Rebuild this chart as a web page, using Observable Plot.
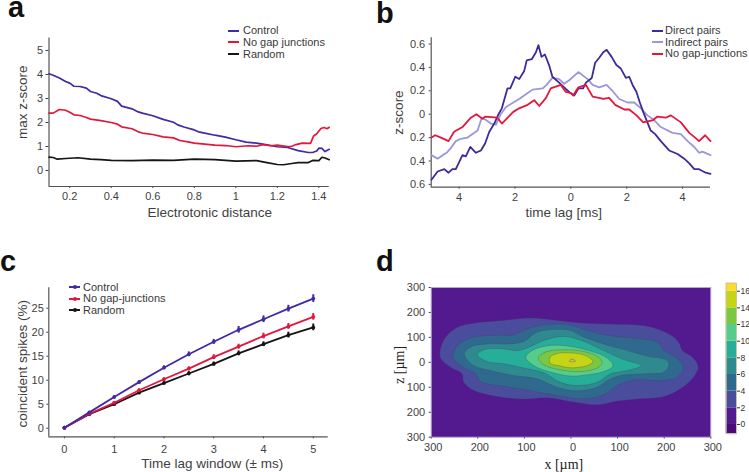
<!DOCTYPE html>
<html>
<head>
<meta charset="utf-8">
<script src="https://cdn.jsdelivr.net/npm/d3@7"></script>
<script src="https://cdn.jsdelivr.net/npm/@observablehq/plot@0.6"></script>
<style>
html,body{margin:0;padding:0;background:#fff;}
#fig{position:relative;width:749px;height:472px;overflow:hidden;font-family:"Liberation Sans",Arial,sans-serif;color:#3a3a3a;}
.box{position:absolute;}
.box svg{display:block;background:transparent;overflow:visible;}
.letter{position:absolute;font-weight:700;font-size:29px;line-height:14px;color:#111;}
.legend{position:absolute;font-size:11px;line-height:11px;white-space:nowrap;}
.legend span.t{position:absolute;top:-5.5px;}
.legend span.s{position:absolute;height:2px;top:-1px;}
.legend span.d{position:absolute;width:4px;height:4px;border-radius:50%;top:-2px;}
</style>
</head>
<body>
<div id="fig"></div>
<script>
// Panel a: [electrotonic distance, max z-score]
const aControl = [[.1,4.03],[.12,3.97],[.15,3.85],[.18,3.71],[.2,3.64],[.22,3.51],[.25,3.5],[.28,3.43],[.3,3.29],[.33,3.22],[.35,3.12],[.4,2.99],[.43,2.88],[.45,2.68],[.5,2.57],[.53,2.44],[.55,2.39],[.6,2.28],[.65,2.13],[.7,2.01],[.72,1.9],[.75,1.81],[.8,1.69],[.82,1.61],[.85,1.56],[.9,1.47],[.95,1.39],[1,1.28],[1.05,1.18],[1.1,1.14],[1.15,1.07],[1.2,.99],[1.25,.96],[1.3,.83],[1.35,.75],[1.37,.75],[1.39,.81],[1.4,.93],[1.415,.92],[1.43,.79],[1.45,.88]];
const aNoGap = [[.1,2.39],[.12,2.39],[.15,2.54],[.18,2.51],[.2,2.43],[.22,2.32],[.25,2.29],[.28,2.21],[.3,2.14],[.35,2.08],[.4,2],[.43,1.93],[.45,1.82],[.5,1.74],[.53,1.61],[.55,1.56],[.6,1.5],[.65,1.4],[.7,1.36],[.73,1.25],[.77,1.19],[.8,1.14],[.85,1.1],[.9,1.06],[.95,1.04],[1,.99],[1.03,1.01],[1.06,1.03],[1.1,1.01],[1.13,1.08],[1.17,1.03],[1.2,1.06],[1.25,1],[1.27,1.01],[1.29,1.08],[1.32,1.14],[1.36,1.13],[1.375,1.44],[1.39,1.53],[1.41,1.75],[1.425,1.79],[1.44,1.74],[1.45,1.8]];
const aRandom = [[.1,.56],[.12,.54],[.14,.47],[.18,.5],[.24,.53],[.3,.47],[.35,.45],[.4,.42],[.5,.41],[.6,.43],[.7,.42],[.8,.47],[.9,.45],[1,.39],[1.1,.41],[1.15,.33],[1.2,.25],[1.23,.24],[1.27,.29],[1.3,.33],[1.35,.33],[1.37,.42],[1.4,.41],[1.415,.55],[1.43,.52],[1.45,.45]];
const aXTicks = [.2,.4,.6,.8,1,1.2,1.4];
const aYTicks = [0,1,2,3,4,5];

// Panel b: [time lag, z-score]
const bDirect = [[-4.99,-.56],[-4.77,-.49],[-4.53,-.47],[-4.38,-.5],[-4.24,-.47],[-4.12,-.47],[-3.88,-.35],[-3.76,-.36],[-3.6,-.28],[-3.4,-.33],[-3.22,-.31],[-3.07,-.25],[-2.92,-.15],[-2.74,-.08],[-2.59,0],[-2.47,.05],[-2.27,.22],[-2.17,.22],[-1.99,.32],[-1.85,.3],[-1.67,.37],[-1.58,.46],[-1.4,.47],[-1.25,.53],[-1.16,.59],[-1.05,.49],[-.93,.51],[-.78,.42],[-.66,.32],[-.42,.27],[-.24,.23],[-.06,.19],[0,.18],[.12,.16],[.27,.22],[.44,.22],[.54,.27],[.75,.31],[.87,.44],[1.01,.48],[1.16,.53],[1.28,.55],[1.46,.49],[1.63,.42],[1.79,.39],[1.97,.31],[2.09,.32],[2.21,.25],[2.35,.19],[2.47,.1],[2.59,.02],[2.74,-.07],[2.86,-.14],[3.02,-.17],[3.22,-.23],[3.52,-.31],[3.82,-.34],[4.06,-.38],[4.24,-.42],[4.42,-.47],[4.59,-.47],[4.83,-.5],[5,-.51]];
const bIndirect = [[-4.99,-.35],[-4.77,-.38],[-4.59,-.35],[-4.45,-.33],[-4.3,-.29],[-4.12,-.23],[-3.94,-.21],[-3.7,-.2],[-3.52,-.17],[-3.34,-.14],[-3.19,-.03],[-3.04,-.05],[-2.86,-.08],[-2.68,-.09],[-2.51,0],[-2.33,.06],[-2.06,.1],[-1.85,.13],[-1.61,.17],[-1.37,.21],[-1.01,.22],[-.87,.25],[-.66,.31],[-.42,.3],[-.24,.26],[-.06,.29],[.27,.36],[.6,.3],[.78,.25],[1.01,.23],[1.28,.25],[1.49,.2],[1.73,.13],[2.03,.1],[2.27,.1],[2.51,.05],[2.74,-.01],[2.98,-.05],[3.22,-.11],[3.64,-.16],[3.94,-.17],[4.18,-.23],[4.42,-.28],[4.59,-.33],[4.71,-.32],[5,-.35]];
const bNoGap = [[-4.99,-.2],[-4.86,-.18],[-4.65,-.2],[-4.38,-.23],[-4.18,-.15],[-3.88,-.11],[-3.58,-.03],[-3.38,0],[-3.16,-.04],[-3.07,-.02],[-2.63,-.03],[-2.47,-.08],[-2.06,.02],[-1.85,.05],[-1.55,.08],[-1.31,.12],[-1.13,.07],[-.89,.14],[-.72,.22],[-.36,.25],[-.18,.19],[0,.18],[.08,.16],[.27,.23],[.54,.25],[.78,.15],[1.01,.14],[1.16,.13],[1.37,.14],[1.59,.08],[1.91,.04],[2.09,.04],[2.35,-.01],[2.59,-.07],[2.95,-.05],[3.1,-.02],[3.4,-.03],[3.58,-.01],[3.94,-.07],[4.24,-.16],[4.45,-.2],[4.59,-.23],[4.81,-.18],[5,-.23]];
const bXTicks = [-4,-2,0,2,4];
const bYTicks = [-.6,-.4,-.2,0,.2,.4,.6];

// Panel c: time lag window, coincident spikes, error
const cLag = [0,.5,1,1.5,2,2.5,3,3.5,4,4.5,5];
const cControl = [.1,3.3,6.5,9.6,12.6,15.4,18,20.5,22.7,24.9,27];
const cNoGap = [.1,3,5.3,7.9,10.2,12.4,14.8,17,19.2,21.2,23.2];
const cRandom = [.1,2.9,5,7.4,9.4,11.4,13.4,15.6,17.5,19.4,21];
const cControlErr = [.1,.2,.2,.3,.4,.5,.5,.7,.7,.7,.8];
const cNoGapErr = [.1,.2,.2,.3,.3,.4,.5,.5,.6,.6,.7];
const cRandomErr = [.1,.2,.2,.3,.3,.4,.4,.5,.5,.6,.7];
const cXTicks = [0,1,2,3,4,5];
const cYTicks = [0,5,10,15,20,25];

// Panel d: contour outlines [x, z] in micrometres
const d2 = [[-281,47],[-269,101],[-243,141],[-208,157],[-144,168],[-87,178],[-30,168],[27,157],[92,153],[163,145],[210,114],[231,81],[239,47],[260,21],[273,-19],[260,-66],[235,-106],[199,-137],[142,-147],[99,-155],[56,-170],[-1,-157],[-51,-142],[-108,-147],[-158,-137],[-208,-113],[-230,-80],[-234,-46],[-259,-19],[-279,14]];
const d4 = [[-253,21],[-243,68],[-216,98],[-166,108],[-123,110],[-94,134],[-58,150],[-8,152],[35,128],[78,108],[135,97],[185,81],[199,47],[224,21],[241,-19],[228,-59],[199,-73],[142,-69],[106,-86],[70,-130],[28,-146],[-30,-133],[-87,-113],[-144,-96],[-194,-77],[-205,-45],[-230,-21]];
const d6 = [[-229,34],[-216,61],[-180,74],[-130,74],[-101,84],[-73,121],[-37,132],[-1,128],[28,101],[70,74],[121,47],[163,25],[206,7],[210,-15],[199,-39],[156,-46],[106,-53],[78,-73],[56,-100],[13,-114],[-30,-100],[-73,-66],[-123,-53],[-173,-33],[-209,-13]];
const d8 = [[-201,30],[-187,51],[-144,54],[-116,47],[-90,61],[-58,88],[-15,104],[28,84],[70,47],[113,11],[151,-13],[121,-33],[85,-46],[56,-80],[13,-93],[-23,-80],[-58,-42],[-101,-23],[-144,-6],[-180,3]];
const d10 = [[-97,21],[-80,51],[-44,68],[-1,64],[42,45],[78,17],[90,-15],[70,-37],[35,-50],[-1,-55],[-44,-39],[-80,-13]];
const d12 = [[-70,17],[-55,41],[-23,50],[20,46],[56,25],[67,-2],[56,-23],[20,-37],[-23,-30],[-58,-10]];
const d14 = [[-46,17],[-33,34],[-1,38],[31,27],[47,3],[35,-13],[-1,-22],[-26,-13],[-44,-5]];
const d16 = [[-4,5],[2,13],[10,5],[2,2]];
const dTicks = [-300,-200,-100,0,100,200,300];
const barLevels = [[-1.12,0],[0,2],[2,4],[4,6],[6,8],[8,10],[10,12],[12,14],[14,16],[16,16.96]];
const barColors = ["#4a0a78","#53198f","#4a4d9c","#2f6a8e","#2e8a8e","#27ae98","#56cc8b","#79c83f","#c5d514","#fbdc2e"];
const barTicks = [0,2,4,6,8,10,12,14,16];
const dContours = [[d2,"#4a4d9c"],[d4,"#2f6a8e"],[d6,"#2e8a8e"],[d8,"#27ae98"],[d10,"#56cc8b"],[d12,"#79c83f"],[d14,"#c5d514"],[d16,"#d9b65b"]];

const BLUE="#4429a3", RED="#e3173e", BLACK="#151515", DBLUE="#3d2a9b", LILAC="#9a97dd";
const AXIS="#555", TXT="#3f3f3f", SANS='"Liberation Sans",Arial,sans-serif';
const fig = document.getElementById("fig");
const fx = d=>d[0], fy = d=>d[1];
const abs = d=>String(Math.abs(d));
const str = d=>String(d);

function place(plot,left,top){
  const b=document.createElement("div");
  b.className="box"; b.style.left=left+"px"; b.style.top=top+"px";
  b.appendChild(plot); fig.appendChild(b);
}
function label(text,opts){
  return Plot.text([text],{text:d=>d,fontSize:13.5,fill:TXT,textAnchor:"middle",lineAnchor:"middle",...opts});
}
function letter(t,x,y){
  const e=document.createElement("div"); e.className="letter"; e.textContent=t;
  e.style.left=x+"px"; e.style.top=y+"px"; fig.appendChild(e);
}
function legend(x0,x1,tx,entries,marker){
  entries.forEach(([t,c,y])=>{
    const g=document.createElement("div"); g.className="legend";
    g.style.left="0"; g.style.top=y+"px";
    let h=`<span class="s" style="left:${x0}px;width:${x1-x0}px;background:${c}"></span>`;
    if(marker) h+=`<span class="d" style="left:${(x0+x1)/2-2}px;background:${c}"></span>`;
    h+=`<span class="t" style="left:${tx}px">${t}</span>`;
    g.innerHTML=h; fig.appendChild(g);
  });
}

// a
place(Plot.plot({
  width:370,height:235,marginLeft:48.5,marginRight:41.3,marginTop:37.5,marginBottom:49,
  style:{fontFamily:SANS,fontSize:"11px",background:"transparent"},
  x:{domain:[.1,1.45]},y:{domain:[-.667,5.52]},
  marks:[
    Plot.axisX({ticks:aXTicks,tickFormat:str,tickSize:2,tickPadding:4,label:null,color:TXT}),
    Plot.axisY({ticks:aYTicks,tickFormat:str,tickSize:3,tickPadding:3,label:null,color:TXT}),
    Plot.ruleX([.1],{stroke:AXIS,strokeWidth:1.2}),
    Plot.ruleY([-.667],{stroke:AXIS,strokeWidth:1.2}),
    Plot.line(aRandom,{x:fx,y:fy,stroke:BLACK,strokeWidth:1.7}),
    Plot.line(aControl,{x:fx,y:fy,stroke:BLUE,strokeWidth:1.7}),
    Plot.line(aNoGap,{x:fx,y:fy,stroke:RED,strokeWidth:1.7}),
    label("Electrotonic distance",{frameAnchor:"bottom",dx:20.7,dy:25.7}),
    label("max z-score",{frameAnchor:"left",rotate:-90,dx:-26.8,dy:-10})
  ]
}),0,0);

// b
place(Plot.plot({
  width:379,height:235,marginLeft:60.7,marginRight:39,marginTop:37.3,marginBottom:48.3,
  style:{fontFamily:SANS,fontSize:"11px",background:"transparent"},
  x:{domain:[-5,5]},y:{domain:[-.624,.653]},
  marks:[
    Plot.axisX({ticks:bXTicks,tickFormat:abs,tickSize:2,tickPadding:4,label:null,color:TXT}),
    Plot.axisY({ticks:bYTicks,tickFormat:abs,tickSize:2,tickPadding:4,label:null,color:TXT}),
    Plot.ruleX([-5],{stroke:AXIS,strokeWidth:1.2}),
    Plot.ruleY([-.624],{stroke:AXIS,strokeWidth:1.2}),
    Plot.line(bIndirect,{x:fx,y:fy,stroke:LILAC,strokeWidth:1.8}),
    Plot.line(bDirect,{x:fx,y:fy,stroke:DBLUE,strokeWidth:1.8}),
    Plot.line(bNoGap,{x:fx,y:fy,stroke:RED,strokeWidth:1.8}),
    label("time lag [ms]",{frameAnchor:"bottom",dx:-7,dy:25.6}),
    label("z-score",{frameAnchor:"left",rotate:-90,dx:-32.4,dy:0})
  ]
}),370,0);

// c
const cRows = (ys,es)=>cLag.map((x,i)=>({x,y:ys[i],e:es[i]}));
const cSeries = [[cRows(cRandom,cRandomErr),BLACK],[cRows(cNoGap,cNoGapErr),RED],[cRows(cControl,cControlErr),BLUE]];
place(Plot.plot({
  width:370,height:237,marginLeft:48.3,marginRight:42.3,marginTop:52.3,marginBottom:35.7,
  style:{fontFamily:SANS,fontSize:"11px",background:"transparent"},
  x:{domain:[-.314,5.3]},y:{domain:[-1.79,29.25]},
  marks:[
    Plot.axisX({ticks:cXTicks,tickFormat:str,tickSize:2,tickPadding:6,label:null,color:TXT}),
    Plot.axisY({ticks:cYTicks,tickFormat:str,tickSize:2,tickPadding:3,label:null,color:TXT}),
    Plot.ruleX([-.314],{stroke:AXIS,strokeWidth:1.2}),
    Plot.ruleY([-1.79],{stroke:AXIS,strokeWidth:1.2}),
    ...cSeries.flatMap(([rows,c])=>[
      Plot.line(rows,{x:"x",y:"y",stroke:c,strokeWidth:1.8}),
      Plot.ruleX(rows,{x:"x",y1:d=>d.y-d.e,y2:d=>d.y+d.e,stroke:c,strokeWidth:2}),
      Plot.dot(rows,{x:"x",y:"y",r:1.9,fill:c})
    ]),
    label("Time lag window (± ms)",{frameAnchor:"bottom",dx:23.7,dy:26.4}),
    label("coincident spikes (%)",{frameAnchor:"left",rotate:-90,dx:-26.6,dy:1.5})
  ]
}),0,235);

// d
place(Plot.plot({
  width:379,height:237,marginLeft:60.7,marginRight:38.7,marginTop:52,marginBottom:35.3,
  style:{fontFamily:SANS,fontSize:"11px",background:"transparent"},
  x:{domain:[-300,300]},y:{domain:[-300,300]},
  marks:[
    Plot.frame({fill:"#53198f",stroke:"#b7a5d6",strokeWidth:1}),
    ...dContours.map(([pts,c])=>Plot.line(pts,{x:fx,y:fy,fill:c,stroke:"#3f3f63",strokeWidth:.5,strokeOpacity:.6,curve:"catmull-rom-closed"})),
    Plot.axisX({ticks:dTicks,tickFormat:()=>"",tickSize:2,label:null,color:AXIS}),
    Plot.axisX({ticks:dTicks,tickFormat:abs,tickSize:0,tickPadding:6,dx:2,label:null,color:TXT}),
    Plot.axisY({ticks:dTicks,tickFormat:abs,tickSize:2,tickPadding:4,label:null,color:TXT}),
    label("x [µm]",{frameAnchor:"bottom",dx:-7.2,dy:27.5,fontFamily:'"Liberation Serif",serif',fontSize:14,fill:"#222"}),
    label("z [µm]",{frameAnchor:"left",rotate:-90,dx:-31.4,dy:2.5,fontFamily:'"Liberation Serif",serif',fontSize:14,fill:"#222"})
  ]
}),370,235);

// colour bar
place(Plot.plot({
  width:34,height:165,marginLeft:10.7,marginRight:13,marginTop:7.7,marginBottom:6.7,
  style:{fontFamily:SANS,fontSize:"8.5px",background:"transparent"},
  x:{domain:[0,1],axis:null},y:{domain:[-1.12,16.96]},
  marks:[
    Plot.rect(barLevels,{y1:fx,y2:fy,fill:(d,i)=>barColors[i]}),
    Plot.frame({stroke:"#c9c4a0",strokeWidth:1}),
    Plot.axisY({anchor:"right",ticks:barTicks,tickFormat:str,tickSize:3,tickPadding:1,label:null,color:"#333"})
  ]
}),715,275);

letter("a",8,0);
letter("b",376,6);
letter("c",0,254);
letter("d",376,254);

legend(228.3,239.3,243,[["Control",BLUE,30.7],["No gap junctions",RED,42.3],["Random",BLACK,54]]);
legend(651.7,663,665,[["Direct pairs",DBLUE,30.5],["Indirect pairs",LILAC,42],["No gap-junctions",RED,53.5]]);
legend(69.3,80,83,[["Control",BLUE,287],["No gap-junctions",RED,298.5],["Random",BLACK,310]],true);
</script>
</body>
</html>
